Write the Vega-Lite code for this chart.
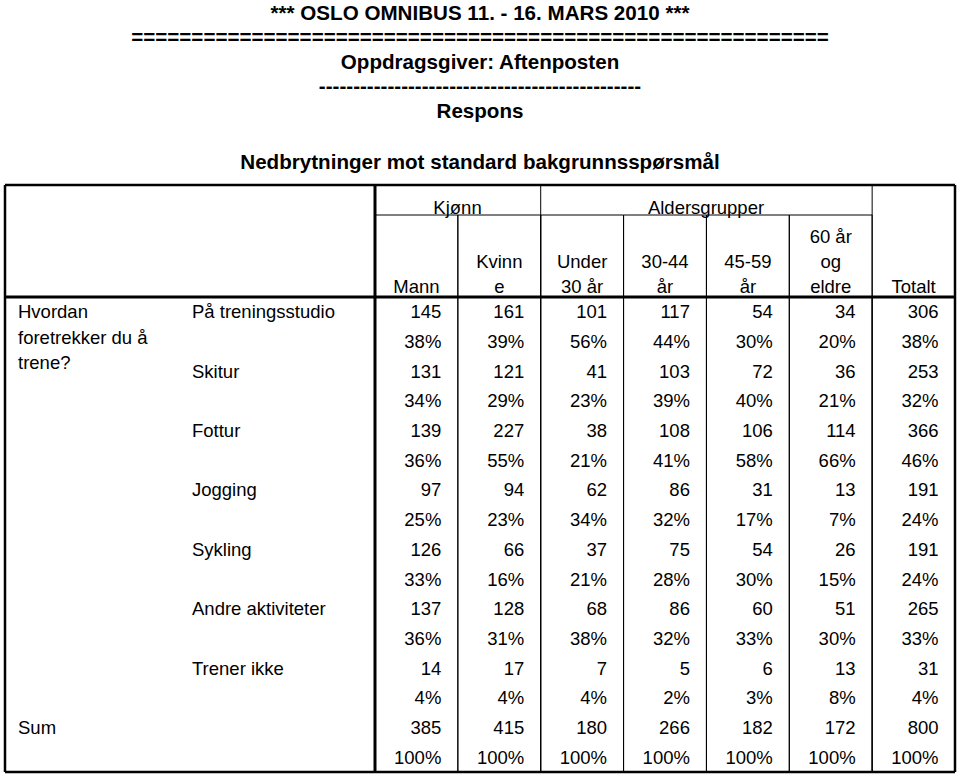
{
  "$schema": "https://vega.github.io/schema/vega-lite/v6.json",
  "width": 960,
  "height": 776,
  "autosize": {"type": "fit", "contains": "padding"},
  "padding": 0,
  "background": "white",
  "config": {"view": {"stroke": null}},
  "resolve": {"scale": {"x": "independent", "y": "independent"}},
  "datasets": {
    "groups": [
      {"group": "Mann"}, {"group": "Kvinne"}, {"group": "Under 30 år"}, {"group": "30-44 år"},
      {"group": "45-59 år"}, {"group": "60 år og eldre"}, {"group": "Totalt"}
    ],
    "cells": [
      {"activity": "På treningsstudio", "group": "Mann", "n": 145, "pct": 0.38},
      {"activity": "På treningsstudio", "group": "Kvinne", "n": 161, "pct": 0.39},
      {"activity": "På treningsstudio", "group": "Under 30 år", "n": 101, "pct": 0.56},
      {"activity": "På treningsstudio", "group": "30-44 år", "n": 117, "pct": 0.44},
      {"activity": "På treningsstudio", "group": "45-59 år", "n": 54, "pct": 0.30},
      {"activity": "På treningsstudio", "group": "60 år og eldre", "n": 34, "pct": 0.20},
      {"activity": "På treningsstudio", "group": "Totalt", "n": 306, "pct": 0.38},
      {"activity": "Skitur", "group": "Mann", "n": 131, "pct": 0.34},
      {"activity": "Skitur", "group": "Kvinne", "n": 121, "pct": 0.29},
      {"activity": "Skitur", "group": "Under 30 år", "n": 41, "pct": 0.23},
      {"activity": "Skitur", "group": "30-44 år", "n": 103, "pct": 0.39},
      {"activity": "Skitur", "group": "45-59 år", "n": 72, "pct": 0.40},
      {"activity": "Skitur", "group": "60 år og eldre", "n": 36, "pct": 0.21},
      {"activity": "Skitur", "group": "Totalt", "n": 253, "pct": 0.32},
      {"activity": "Fottur", "group": "Mann", "n": 139, "pct": 0.36},
      {"activity": "Fottur", "group": "Kvinne", "n": 227, "pct": 0.55},
      {"activity": "Fottur", "group": "Under 30 år", "n": 38, "pct": 0.21},
      {"activity": "Fottur", "group": "30-44 år", "n": 108, "pct": 0.41},
      {"activity": "Fottur", "group": "45-59 år", "n": 106, "pct": 0.58},
      {"activity": "Fottur", "group": "60 år og eldre", "n": 114, "pct": 0.66},
      {"activity": "Fottur", "group": "Totalt", "n": 366, "pct": 0.46},
      {"activity": "Jogging", "group": "Mann", "n": 97, "pct": 0.25},
      {"activity": "Jogging", "group": "Kvinne", "n": 94, "pct": 0.23},
      {"activity": "Jogging", "group": "Under 30 år", "n": 62, "pct": 0.34},
      {"activity": "Jogging", "group": "30-44 år", "n": 86, "pct": 0.32},
      {"activity": "Jogging", "group": "45-59 år", "n": 31, "pct": 0.17},
      {"activity": "Jogging", "group": "60 år og eldre", "n": 13, "pct": 0.07},
      {"activity": "Jogging", "group": "Totalt", "n": 191, "pct": 0.24},
      {"activity": "Sykling", "group": "Mann", "n": 126, "pct": 0.33},
      {"activity": "Sykling", "group": "Kvinne", "n": 66, "pct": 0.16},
      {"activity": "Sykling", "group": "Under 30 år", "n": 37, "pct": 0.21},
      {"activity": "Sykling", "group": "30-44 år", "n": 75, "pct": 0.28},
      {"activity": "Sykling", "group": "45-59 år", "n": 54, "pct": 0.30},
      {"activity": "Sykling", "group": "60 år og eldre", "n": 26, "pct": 0.15},
      {"activity": "Sykling", "group": "Totalt", "n": 191, "pct": 0.24},
      {"activity": "Andre aktiviteter", "group": "Mann", "n": 137, "pct": 0.36},
      {"activity": "Andre aktiviteter", "group": "Kvinne", "n": 128, "pct": 0.31},
      {"activity": "Andre aktiviteter", "group": "Under 30 år", "n": 68, "pct": 0.38},
      {"activity": "Andre aktiviteter", "group": "30-44 år", "n": 86, "pct": 0.32},
      {"activity": "Andre aktiviteter", "group": "45-59 år", "n": 60, "pct": 0.33},
      {"activity": "Andre aktiviteter", "group": "60 år og eldre", "n": 51, "pct": 0.30},
      {"activity": "Andre aktiviteter", "group": "Totalt", "n": 265, "pct": 0.33},
      {"activity": "Trener ikke", "group": "Mann", "n": 14, "pct": 0.04},
      {"activity": "Trener ikke", "group": "Kvinne", "n": 17, "pct": 0.04},
      {"activity": "Trener ikke", "group": "Under 30 år", "n": 7, "pct": 0.04},
      {"activity": "Trener ikke", "group": "30-44 år", "n": 5, "pct": 0.02},
      {"activity": "Trener ikke", "group": "45-59 år", "n": 6, "pct": 0.03},
      {"activity": "Trener ikke", "group": "60 år og eldre", "n": 13, "pct": 0.08},
      {"activity": "Trener ikke", "group": "Totalt", "n": 31, "pct": 0.04},
      {"activity": "Sum", "group": "Mann", "n": 385, "pct": 1},
      {"activity": "Sum", "group": "Kvinne", "n": 415, "pct": 1},
      {"activity": "Sum", "group": "Under 30 år", "n": 180, "pct": 1},
      {"activity": "Sum", "group": "30-44 år", "n": 266, "pct": 1},
      {"activity": "Sum", "group": "45-59 år", "n": 182, "pct": 1},
      {"activity": "Sum", "group": "60 år og eldre", "n": 172, "pct": 1},
      {"activity": "Sum", "group": "Totalt", "n": 800, "pct": 1}
    ]
  },
  "layer": [
    {
      "data": {"name": "groups"},
      "mark": {"type": "rect", "filled": false, "color": "black", "strokeWidth": 1},
      "encoding": {
        "x": {"field": "group", "type": "nominal", "axis": null, "scale": {"type": "band", "domain": ["Mann", "Kvinne", "Under 30 år", "30-44 år", "45-59 år", "60 år og eldre", "Totalt"], "range": [375, 955], "paddingInner": 0, "paddingOuter": 0}},
        "y": {"datum": "hode", "type": "nominal", "axis": null, "scale": {"type": "point", "domain": ["hode", "bunn"], "range": [297, 772], "padding": 0}},
        "y2": {"datum": "bunn"}
      }
    },
    {
      "data": {"values": [{"group": "Mann"}, {"group": "Kvinne"}, {"group": "Under 30 år"}, {"group": "30-44 år"}, {"group": "45-59 år"}, {"group": "60 år og eldre"}]},
      "mark": {"type": "rect", "filled": false, "color": "black", "strokeWidth": 1},
      "encoding": {
        "x": {"field": "group", "type": "nominal", "axis": null, "scale": {"type": "band", "domain": ["Mann", "Kvinne", "Under 30 år", "30-44 år", "45-59 år", "60 år og eldre", "Totalt"], "range": [375, 955], "paddingInner": 0, "paddingOuter": 0}},
        "y": {"datum": "midt", "type": "nominal", "axis": null, "scale": {"type": "point", "domain": ["midt", "hode"], "range": [215, 297], "padding": 0}},
        "y2": {"datum": "hode"}
      }
    },
    {
      "data": {"values": [{"kant": "topp"}, {"kant": "bunn"}]},
      "mark": {"type": "rule", "color": "black", "strokeWidth": 2.5},
      "encoding": {
        "x": {"datum": "venstre", "type": "nominal", "axis": null, "scale": {"type": "point", "domain": ["venstre", "høyre"], "range": [5, 955], "padding": 0}},
        "x2": {"datum": "høyre"},
        "y": {"field": "kant", "type": "nominal", "axis": null, "scale": {"type": "point", "domain": ["topp", "bunn"], "range": [185, 772], "padding": 0}}
      }
    },
    {
      "data": {"values": [{"kant": "venstre"}, {"kant": "høyre"}]},
      "mark": {"type": "rule", "color": "black", "strokeWidth": 2.5},
      "encoding": {
        "x": {"field": "kant", "type": "nominal", "axis": null, "scale": {"type": "point", "domain": ["venstre", "høyre"], "range": [5, 955], "padding": 0}},
        "y": {"datum": "topp", "type": "nominal", "axis": null, "scale": {"type": "point", "domain": ["topp", "bunn"], "range": [185, 772], "padding": 0}},
        "y2": {"datum": "bunn"}
      }
    },
    {
      "data": {"values": [{"linje": "hode"}]},
      "mark": {"type": "rule", "color": "black", "strokeWidth": 3},
      "encoding": {
        "x": {"datum": "venstre", "type": "nominal", "axis": null, "scale": {"type": "point", "domain": ["venstre", "høyre"], "range": [5, 955], "padding": 0}},
        "x2": {"datum": "høyre"},
        "y": {"field": "linje", "type": "nominal", "axis": null, "scale": {"type": "point", "domain": ["hode", "bunn"], "range": [297, 772], "padding": 0}}
      }
    },
    {
      "data": {"values": [{"group": "Mann"}]},
      "mark": {"type": "rule", "color": "black", "strokeWidth": 3},
      "encoding": {
        "x": {"field": "group", "type": "nominal", "bandPosition": 0, "axis": null, "scale": {"type": "band", "domain": ["Mann", "Kvinne", "Under 30 år", "30-44 år", "45-59 år", "60 år og eldre", "Totalt"], "range": [375, 955], "paddingInner": 0, "paddingOuter": 0}},
        "y": {"datum": "topp", "type": "nominal", "axis": null, "scale": {"type": "point", "domain": ["topp", "bunn"], "range": [185, 772], "padding": 0}},
        "y2": {"datum": "bunn"}
      }
    },
    {
      "data": {"values": [{"group": "Under 30 år"}, {"group": "Totalt"}]},
      "mark": {"type": "rule", "color": "black", "strokeWidth": 1},
      "encoding": {
        "x": {"field": "group", "type": "nominal", "bandPosition": 0, "axis": null, "scale": {"type": "band", "domain": ["Mann", "Kvinne", "Under 30 år", "30-44 år", "45-59 år", "60 år og eldre", "Totalt"], "range": [375, 955], "paddingInner": 0, "paddingOuter": 0}},
        "y": {"datum": "topp", "type": "nominal", "axis": null, "scale": {"type": "point", "domain": ["topp", "bunn"], "range": [185, 772], "padding": 0}},
        "y2": {"datum": "bunn"}
      }
    },
    {
      "data": {"values": [
        {"blokk": "tittel", "text": ["*** OSLO OMNIBUS 11. - 16. MARS 2010 ***", "==========================================================", "Oppdragsgiver: Aftenposten", "-----------------------------------------------", "Respons"]},
        {"blokk": "undertittel", "text": "Nedbrytninger mot standard bakgrunnsspørsmål"}
      ]},
      "mark": {"type": "text", "font": "Liberation Sans", "fontWeight": "bold", "fontSize": 20.6, "align": "center", "baseline": "middle", "lineHeight": 24.6, "color": "black"},
      "encoding": {
        "y": {"field": "blokk", "type": "nominal", "axis": null, "scale": {"type": "point", "domain": ["tittel", "undertittel"], "range": [13.5, 163], "padding": 0}},
        "text": {"field": "text"}
      }
    },
    {
      "data": {"values": [{"span": "Kjønn"}, {"span": "Aldersgrupper"}]},
      "mark": {"type": "text", "font": "Liberation Sans", "fontSize": 18.5, "align": "center", "baseline": "middle", "color": "black"},
      "encoding": {
        "x": {"field": "span", "type": "nominal", "axis": null, "scale": {"type": "point", "domain": ["Kjønn", "Aldersgrupper"], "range": [457.5, 706], "padding": 0}},
        "y": {"datum": "spenn", "type": "nominal", "axis": null, "scale": {"type": "point", "domain": ["spenn", "b0"], "range": [207.5, 286], "padding": 0}},
        "text": {"field": "span"}
      }
    },
    {
      "data": {"values": [
        {"group": "Mann", "line": "b0", "text": "Mann"},
        {"group": "Kvinne", "line": "b1", "text": "Kvinn"},
        {"group": "Kvinne", "line": "b0", "text": "e"},
        {"group": "Under 30 år", "line": "b1", "text": "Under"},
        {"group": "Under 30 år", "line": "b0", "text": "30 år"},
        {"group": "30-44 år", "line": "b1", "text": "30-44"},
        {"group": "30-44 år", "line": "b0", "text": "år"},
        {"group": "45-59 år", "line": "b1", "text": "45-59"},
        {"group": "45-59 år", "line": "b0", "text": "år"},
        {"group": "60 år og eldre", "line": "b2", "text": "60 år"},
        {"group": "60 år og eldre", "line": "b1", "text": "og"},
        {"group": "60 år og eldre", "line": "b0", "text": "eldre"},
        {"group": "Totalt", "line": "b0", "text": "Totalt"}
      ]},
      "mark": {"type": "text", "font": "Liberation Sans", "fontSize": 18.5, "align": "center", "baseline": "middle", "color": "black"},
      "encoding": {
        "x": {"field": "group", "type": "nominal", "bandPosition": 0.5, "axis": null, "scale": {"type": "band", "domain": ["Mann", "Kvinne", "Under 30 år", "30-44 år", "45-59 år", "60 år og eldre", "Totalt"], "range": [375, 955], "paddingInner": 0, "paddingOuter": 0}},
        "y": {"field": "line", "type": "nominal", "axis": null, "scale": {"type": "point", "domain": ["b2", "b1", "b0"], "range": [236.5, 286.5], "padding": 0}},
        "text": {"field": "text"}
      }
    },
    {
      "data": {"values": [
        {"activity": "På treningsstudio", "level": "spørsmål", "text": ["Hvordan", "foretrekker du å", "trene?"]},
        {"activity": "På treningsstudio", "level": "svar", "text": "På treningsstudio"},
        {"activity": "Skitur", "level": "svar", "text": "Skitur"},
        {"activity": "Fottur", "level": "svar", "text": "Fottur"},
        {"activity": "Jogging", "level": "svar", "text": "Jogging"},
        {"activity": "Sykling", "level": "svar", "text": "Sykling"},
        {"activity": "Andre aktiviteter", "level": "svar", "text": "Andre aktiviteter"},
        {"activity": "Trener ikke", "level": "svar", "text": "Trener ikke"},
        {"activity": "Sum", "level": "spørsmål", "text": "Sum"}
      ]},
      "mark": {"type": "text", "font": "Liberation Sans", "fontSize": 18.5, "align": "left", "baseline": "middle", "lineHeight": 25.5, "dy": 0.5, "color": "black"},
      "encoding": {
        "x": {"field": "level", "type": "nominal", "axis": null, "scale": {"type": "point", "domain": ["spørsmål", "svar"], "range": [18, 192], "padding": 0}},
        "y": {"field": "activity", "type": "nominal", "bandPosition": 0.25, "axis": null, "scale": {"type": "band", "domain": ["På treningsstudio", "Skitur", "Fottur", "Jogging", "Sykling", "Andre aktiviteter", "Trener ikke", "Sum"], "range": [297, 772], "paddingInner": 0, "paddingOuter": 0}},
        "text": {"field": "text"}
      }
    },
    {
      "data": {"name": "cells"},
      "mark": {"type": "text", "font": "Liberation Sans", "fontSize": 18.5, "align": "right", "baseline": "middle", "dx": -16.5, "dy": 0.5, "color": "black"},
      "encoding": {
        "x": {"field": "group", "type": "nominal", "bandPosition": 1, "axis": null, "scale": {"type": "band", "domain": ["Mann", "Kvinne", "Under 30 år", "30-44 år", "45-59 år", "60 år og eldre", "Totalt"], "range": [375, 955], "paddingInner": 0, "paddingOuter": 0}},
        "y": {"field": "activity", "type": "nominal", "bandPosition": 0.25, "axis": null, "scale": {"type": "band", "domain": ["På treningsstudio", "Skitur", "Fottur", "Jogging", "Sykling", "Andre aktiviteter", "Trener ikke", "Sum"], "range": [297, 772], "paddingInner": 0, "paddingOuter": 0}},
        "text": {"field": "n", "type": "quantitative", "format": "d"}
      }
    },
    {
      "data": {"name": "cells"},
      "mark": {"type": "text", "font": "Liberation Sans", "fontSize": 18.5, "align": "right", "baseline": "middle", "dx": -16.5, "dy": 0.5, "color": "black"},
      "encoding": {
        "x": {"field": "group", "type": "nominal", "bandPosition": 1, "axis": null, "scale": {"type": "band", "domain": ["Mann", "Kvinne", "Under 30 år", "30-44 år", "45-59 år", "60 år og eldre", "Totalt"], "range": [375, 955], "paddingInner": 0, "paddingOuter": 0}},
        "y": {"field": "activity", "type": "nominal", "bandPosition": 0.75, "axis": null, "scale": {"type": "band", "domain": ["På treningsstudio", "Skitur", "Fottur", "Jogging", "Sykling", "Andre aktiviteter", "Trener ikke", "Sum"], "range": [297, 772], "paddingInner": 0, "paddingOuter": 0}},
        "text": {"field": "pct", "type": "quantitative", "format": ".0%"}
      }
    }
  ]
}
